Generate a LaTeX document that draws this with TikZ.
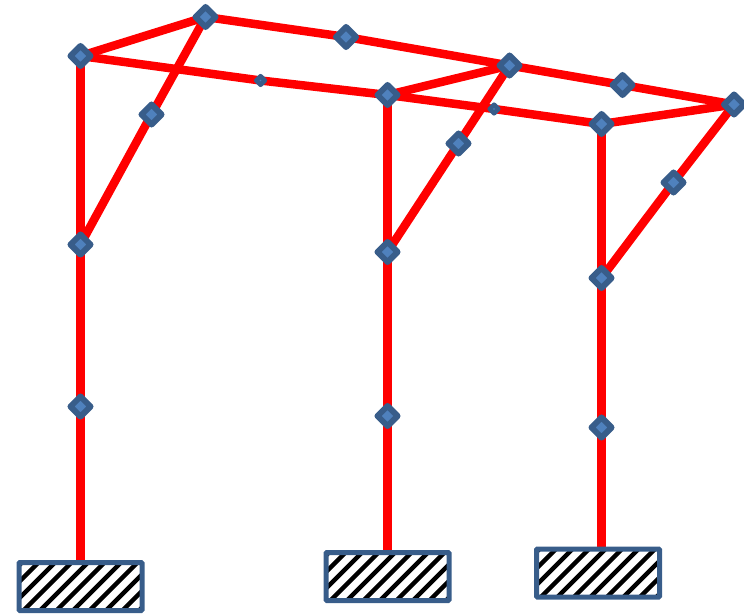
\documentclass[tikz,border=0pt]{standalone}
\usetikzlibrary{shapes.geometric,backgrounds}
\definecolor{jointfill}{HTML}{4F81BD}
\definecolor{jointedge}{HTML}{385D8A}
\tikzset{
  x=1pt,y=-1pt,
  joint/.style={diamond,aspect=1,fill=jointfill,draw=jointedge,line width=6pt,line join=round,inner sep=0pt,minimum size=22.5pt},
  smalljoint/.style={diamond,aspect=1,fill=jointfill,draw=jointedge,line width=4.5pt,line join=round,inner sep=0pt,minimum size=10.5pt},
  member/.style={draw=red,line width=8.5pt},
  foot/.style={rectangle,draw=jointedge,line width=5pt,rounded corners=1pt,fill=white,inner sep=0pt,minimum width=123pt,minimum height=48pt,
    path picture={
      \foreach \k in {-8,...,8}{
        \draw[black,line width=4.5pt] ([xshift=\k*16.5pt-30pt,yshift=-30pt]path picture bounding box.center) -- ++(60pt,60pt);
      }
    }}
}
\begin{document}
\begin{tikzpicture}
\useasboundingbox (0,0) rectangle (744,615);
\node[joint] (a1) at (80.5,56) {};
\node[joint] (a2) at (205.5,17) {};
\node[joint] (a3) at (346,37) {};
\node[joint] (b1) at (509.5,65.5) {};
\node[joint] (b2) at (622.5,85) {};
\node[joint] (b3) at (734,104.5) {};
\node[smalljoint] (s1) at (260.5,80.5) {};
\node[joint] (c1) at (387.5,95) {};
\node[smalljoint] (s2) at (494,109) {};
\node[joint] (d1) at (601.5,124) {};
\node[joint] (e1) at (151.5,114.5) {};
\node[joint] (e2) at (458.5,143.5) {};
\node[joint] (e3) at (673.5,182.5) {};
\node[joint] (f1) at (80.5,244.5) {};
\node[joint] (f2) at (387.5,252) {};
\node[joint] (f3) at (601.5,278) {};
\node[joint] (g1) at (80.5,406.5) {};
\node[joint] (g2) at (387.5,416) {};
\node[joint] (g3) at (601.5,427.5) {};
\node[foot] (h1) at (80.5,586.5) {};
\node[foot] (h2) at (387.5,576.5) {};
\node[foot] (h3) at (598,573) {};
\begin{pgfonlayer}{background}
\draw[member] (a1.center) -- (a2.center);
\draw[member] (a2.center) -- (a3.center) -- (b1.center) -- (b2.center) -- (b3.center);
\draw[member] (a1.center) -- (s1.center) -- (c1.center) -- (s2.center) -- (d1.center) -- (b3.center);
\draw[member] (c1.center) -- (b1.center);
\draw[member] (a2.center) -- (e1.center) -- (f1.center);
\draw[member] (b1.center) -- (e2.center) -- (f2.center);
\draw[member] (b3.center) -- (e3.center) -- (f3.center);
\draw[member] (a1.center) -- (f1.center) -- (g1.center) -- (h1.north);
\draw[member] (c1.center) -- (f2.center) -- (g2.center) -- (h2.north);
\draw[member] (d1.center) -- (f3.center) -- (g3.center) -- (d1.center |- h3.north);
\end{pgfonlayer}
\end{tikzpicture}
\end{document}
